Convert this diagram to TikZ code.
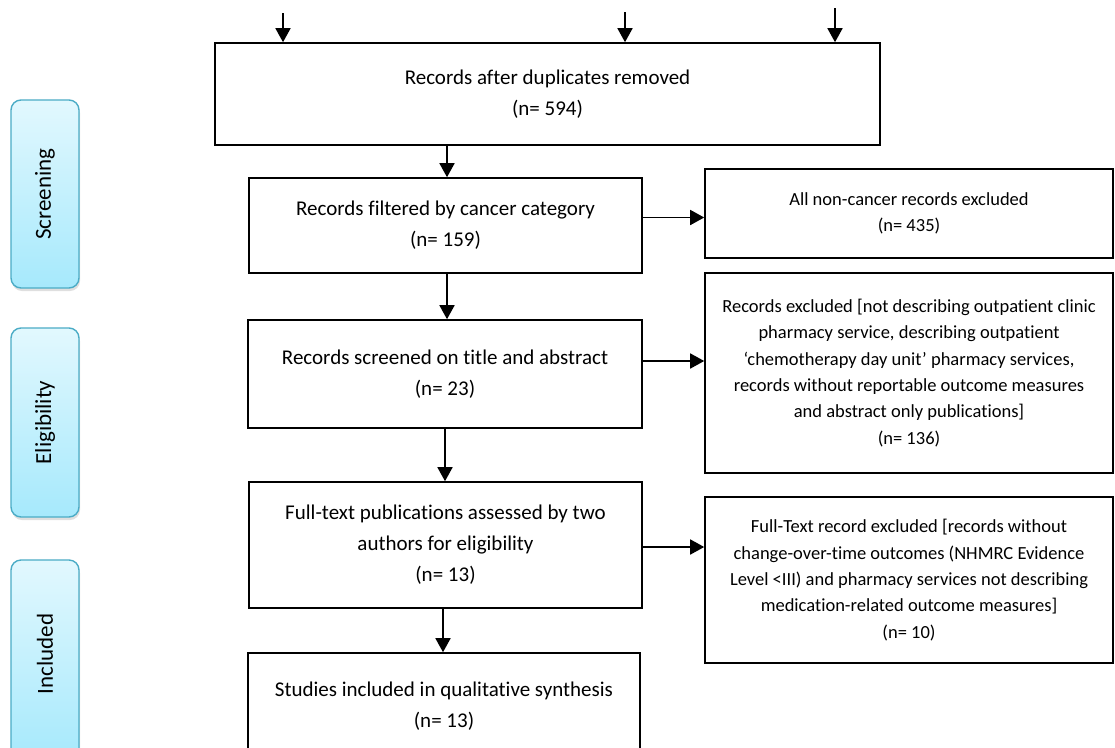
\documentclass[tikz,border=0pt]{standalone}
\usepackage{fontspec}
\setmainfont{Carlito}[Ligatures=NoCommon]
\usetikzlibrary{arrows.meta,shadows}
\definecolor{tabborder}{HTML}{4BACC6}
\definecolor{tabtop}{HTML}{E2F8FE}
\definecolor{tabbot}{HTML}{A6E9FC}
\begin{document}
\begin{tikzpicture}[x=1pt,y=-1pt,
  box/.style={draw, line width=1.6pt, align=center, inner sep=0pt, font=\fontsize{21}{31}\selectfont},
  sidebox/.style={draw, line width=1.6pt, align=center, inner sep=0pt, font=\fontsize{18.5}{26.3}\selectfont},
  arr/.style={line width=1.6pt, -{Triangle[length=14pt,width=15pt]}},
  tab/.style={draw=tabborder, line width=1.4pt, rounded corners=10pt, top color=tabtop, bottom color=tabbot, minimum width=68pt, inner sep=0pt, drop shadow={opacity=0.25, shadow xshift=1pt, shadow yshift=-3pt}},
  tablabel/.style={rotate=90, font=\fontsize{23}{27}\selectfont}]
\path[use as bounding box] (0,0) rectangle (1115,747);
\clip (0,0) rectangle (1115,747);
\fill[white] (0,0) rectangle (1115,747);

% phase tabs
\node[tab, minimum height=188pt] (t1) at (45,194) {};
\node[tablabel] (l1) at (t1.center) {Screening};
\node[tab, minimum height=189pt] (t2) at (45,422.5) {};
\node[tablabel] (l2) at (t2.center) {Eligibility};
\node[tab, minimum height=200pt] (t3) at (45,660) {};
\node[tablabel] (l3) at (45,654) {Included};

% main flow boxes
\node[box, minimum width=665pt, minimum height=102pt] (main) at (547.5,94) {Records after duplicates removed\\(n= 594)};
\node[box, minimum width=393pt, minimum height=95pt] (filt) at (445.5,225.5) {Records filtered by cancer category\\(n= 159)};
\node[box, minimum width=394pt, minimum height=108pt] (scr) at (445,374) {Records screened on title and abstract\\(n= 23)};
\node[box, minimum width=393pt, minimum height=126pt] (full) at (445.5,545) {Full-text publications assessed by two\\authors for eligibility\\(n= 13)};
\node[box, minimum width=392pt, minimum height=107pt] (stud) at (444,706.5) {Studies included in qualitative synthesis\\(n= 13)};

% exclusion boxes
\node[sidebox, minimum width=408pt, minimum height=89pt] (nonc) at (909,213.5) {All non-cancer records excluded\\(n= 435)};
\node[sidebox, minimum width=408pt, minimum height=200pt] (excl) at (909,373) {Records excluded [not describing outpatient clinic\\pharmacy service, describing outpatient\\`chemotherapy day unit' pharmacy services,\\records without reportable outcome measures\\and abstract only publications]\\(n= 136)};
\node[sidebox, minimum width=408pt, minimum height=166pt] (fexcl) at (909,580) {Full-Text record excluded [records without\\change-over-time outcomes (NHMRC Evidence\\Level <III) and pharmacy services not describing\\medication-related outcome measures]\\(n= 10)};

% incoming arrows from above
\coordinate (s1) at (283,13);
\coordinate (s2) at (625,12);
\coordinate (s3) at (835,8);
\draw[arr] (s1) -- (s1 |- main.north);
\draw[arr] (s2) -- (s2 |- main.north);
\draw[arr] (s3) -- (s3 |- main.north);

% vertical flow
\coordinate (v1) at ([xshift=1.5pt]filt.north);
\draw[arr] (v1 |- main.south) -- (v1);
\draw[arr] ([xshift=1.5pt]filt.south) -- ([xshift=2pt]scr.north);
\draw[arr] ([xshift=0pt]scr.south) -- ([xshift=-0.5pt]full.north);
\draw[arr] ([xshift=-2.5pt]full.south) -- ([xshift=-1pt]stud.north);

% exclusion arrows
\coordinate (h1) at ([yshift=8pt]filt.east);
\coordinate (h2) at ([yshift=13pt]scr.east);
\coordinate (h3) at ([yshift=-2pt]full.east);
\draw[arr] (h1) -- (h1 -| nonc.west);
\draw[arr] (h2) -- (h2 -| excl.west);
\draw[arr] (h3) -- (h3 -| fexcl.west);
\end{tikzpicture}
\end{document}
